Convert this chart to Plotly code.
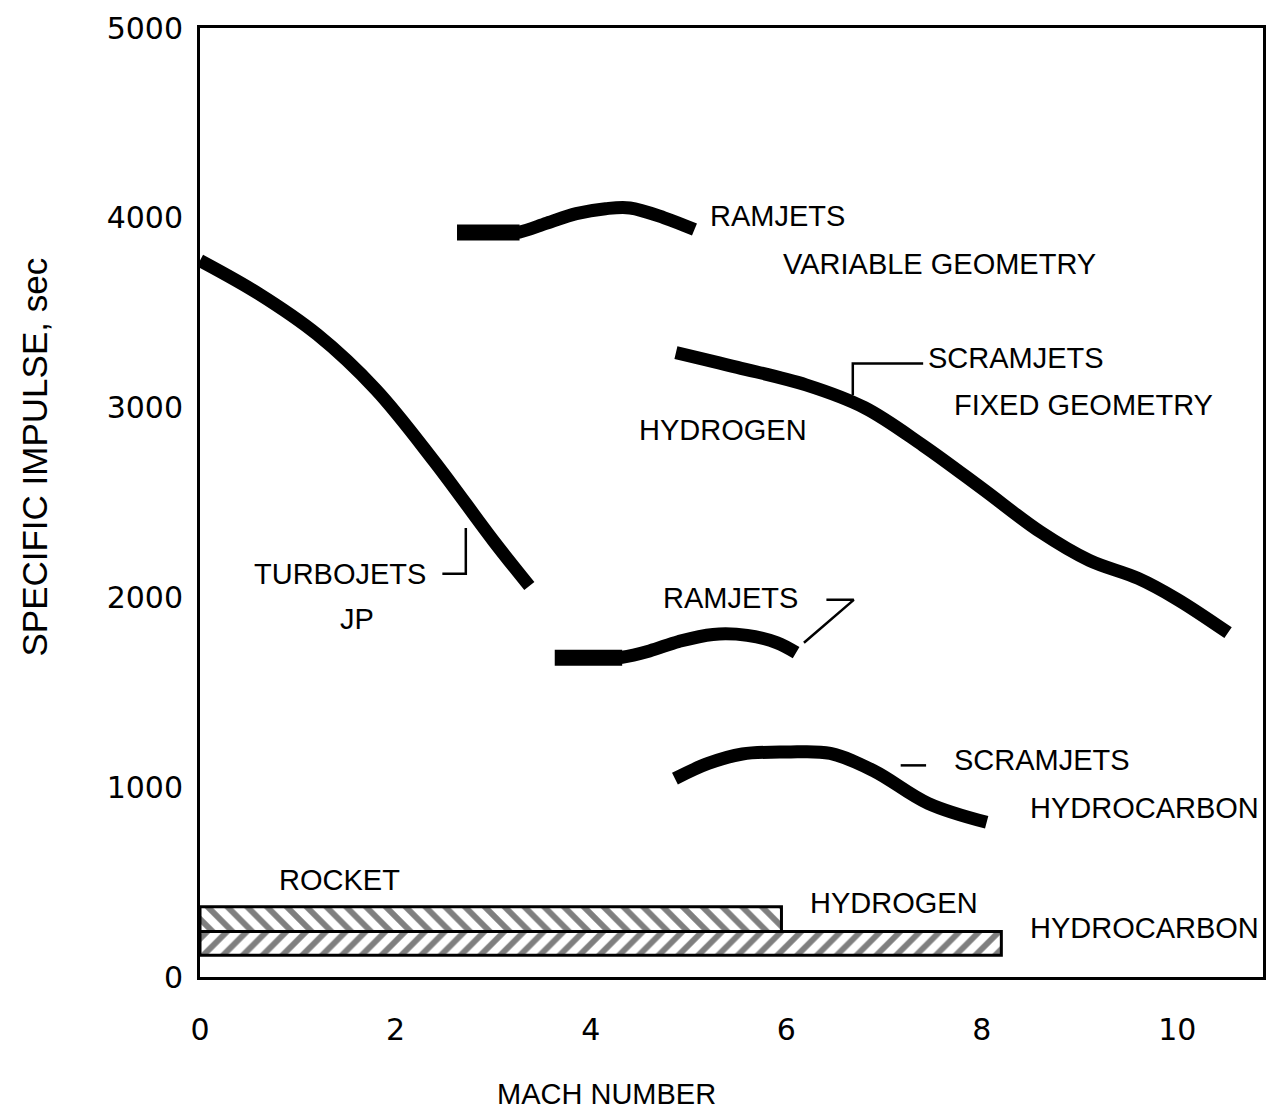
import plotly.graph_objects as go

# ---- data (Mach number vs specific impulse, sec) ----
turbo_mach = [0.0, 0.6, 1.2, 1.8, 2.4, 3.0, 3.37]
turbo_isp = [3775, 3600, 3385, 3095, 2715, 2300, 2060]

ramjet_h2_flat_mach = [2.63, 3.27]
ramjet_h2_flat_isp = [3922, 3922]
ramjet_h2_mach = [3.12, 3.27, 3.55, 3.85, 4.15, 4.40, 4.75, 5.06]
ramjet_h2_isp = [3922, 3925, 3972, 4022, 4048, 4052, 4000, 3938]

scram_h2_mach = [4.87, 5.5, 6.2, 6.8, 7.4, 8.0, 8.6, 9.1, 9.6, 10.0, 10.52]
scram_h2_isp = [3290, 3212, 3120, 3000, 2800, 2575, 2345, 2195, 2100, 1990, 1814]

ramjet_hc_flat_mach = [3.63, 4.32]
ramjet_hc_flat_isp = [1682, 1682]
ramjet_hc_mach = [4.18, 4.32, 4.60, 4.90, 5.25, 5.60, 5.90, 6.10]
ramjet_hc_isp = [1682, 1685, 1718, 1768, 1805, 1800, 1762, 1709]

scram_hc_mach = [4.86, 5.20, 5.55, 6.00, 6.45, 6.90, 7.45, 8.05]
scram_hc_isp = [1045, 1125, 1175, 1185, 1178, 1085, 915, 815]

rocket_names = ["HYDROGEN", "HYDROCARBON"]
rocket_mach_max = [5.95, 8.20]
rocket_isp_low = [240, 115]
rocket_isp_high = [370, 240]
rocket_hatch = ["\\", "/"]

x_ticks = [0, 2, 4, 6, 8, 10]
y_ticks = [0, 1000, 2000, 3000, 4000, 5000]

LABEL_FONT = dict(family="Liberation Sans, Arial, sans-serif", size=29, color="black")
TICK_FONT = dict(family="DejaVu Sans, sans-serif", size=30, color="black")

fig = go.Figure()

# rocket bars (hatched)
for name, xm, lo, hi, hatch in zip(rocket_names, rocket_mach_max, rocket_isp_low,
                                   rocket_isp_high, rocket_hatch):
    fig.add_trace(go.Bar(
        orientation="h",
        x=[xm], base=[0], y=[(lo + hi) / 2], width=[hi - lo],
        marker=dict(color="white",
                    line=dict(color="black", width=3),
                    pattern=dict(shape=hatch, fgcolor="black", bgcolor="white",
                                 size=14, solidity=0.42)),
        showlegend=False, hoverinfo="skip",
    ))

# flat thick segments
for xs, ys in [(ramjet_h2_flat_mach, ramjet_h2_flat_isp),
               (ramjet_hc_flat_mach, ramjet_hc_flat_isp)]:
    fig.add_trace(go.Scatter(
        x=xs, y=ys, mode="lines",
        line=dict(color="black", width=16),
        showlegend=False, hoverinfo="skip",
    ))

curves = [
    (turbo_mach, turbo_isp),
    (ramjet_h2_mach, ramjet_h2_isp),
    (scram_h2_mach, scram_h2_isp),
    (ramjet_hc_mach, ramjet_hc_isp),
    (scram_hc_mach, scram_hc_isp),
]
for xs, ys in curves:
    fig.add_trace(go.Scatter(
        x=xs, y=ys, mode="lines",
        line=dict(color="black", width=13, shape="spline", smoothing=1.0),
        showlegend=False, hoverinfo="skip",
    ))

# leader lines
leaders = [
    [(2.48, 2124), (2.72, 2124), (2.72, 2366)],
    [(6.68, 3065), (6.68, 3233), (7.40, 3233)],
    [(6.41, 1987), (6.69, 1987), (6.18, 1761)],
    [(7.17, 1115), (7.43, 1115)],
]
for pts in leaders:
    fig.add_trace(go.Scatter(
        x=[p[0] for p in pts], y=[p[1] for p in pts], mode="lines",
        line=dict(color="black", width=2.5),
        showlegend=False, hoverinfo="skip",
    ))

labels = [
    ("RAMJETS", 5.20, 4012),
    ("VARIABLE GEOMETRY", 5.95, 3759),
    ("SCRAMJETS", 7.43, 3260),
    ("FIXED GEOMETRY", 7.70, 3013),
    ("HYDROGEN", 4.47, 2881),
    ("TURBOJETS", 0.53, 2124),
    ("JP", 1.41, 1888),
    ("RAMJETS", 4.72, 1998),
    ("SCRAMJETS", 7.70, 1141),
    ("HYDROCARBON", 8.47, 889),
    ("ROCKET", 0.79, 510),
    ("HYDROGEN", 6.22, 389),
    ("HYDROCARBON", 8.47, 258),
]
for txt, lx, ly in labels:
    fig.add_annotation(x=lx, y=ly, text=txt, showarrow=False,
                       xanchor="left", yanchor="middle", font=LABEL_FONT,
                       xref="x", yref="y")

# axis titles
fig.add_annotation(x=(608 - 200) / 1066, y=(977 - 1094) / 951, xref="paper", yref="paper",
                   text="MACH NUMBER", showarrow=False, font=LABEL_FONT,
                   xanchor="center", yanchor="middle")
fig.add_annotation(x=(34 - 200) / 1066, y=(977 - 456) / 951, xref="paper", yref="paper",
                   text="SPECIFIC IMPULSE, sec", showarrow=False, textangle=-90,
                   font=dict(family="Liberation Sans, Arial, sans-serif", size=35, color="black"),
                   xanchor="center", yanchor="middle")

fig.update_layout(
    width=1276, height=1110,
    margin=dict(l=200, r=10, t=26, b=133),
    paper_bgcolor="white", plot_bgcolor="white",
    barmode="overlay",
    xaxis=dict(range=[0, 1066 / 98.0], tickvals=x_ticks, ticktext=[str(v) for v in x_ticks],
               showgrid=False, zeroline=False, showline=True, mirror=True,
               linecolor="black", linewidth=3, ticks="", tickfont=TICK_FONT,
               ticklabelstandoff=24),
    yaxis=dict(range=[0, 5000], tickvals=y_ticks, ticktext=[str(v) for v in y_ticks],
               showgrid=False, zeroline=False, showline=True, mirror=True,
               linecolor="black", linewidth=3, ticks="", tickfont=TICK_FONT,
               ticklabelstandoff=8),
)

fig.write_html("out.html")
